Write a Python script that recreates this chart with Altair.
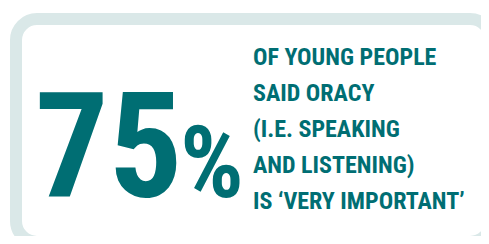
import altair as alt
import pandas as pd

# --- data ---
stat_value = [75]
stat_suffix = ["%"]
caption_lines = [
    "OF YOUNG PEOPLE",
    "SAID ORACY",
    "(I.E. SPEAKING",
    "AND LISTENING)",
    "IS \u2018VERY IMPORTANT\u2019",
]

TEAL = "#006e73"
BORDER = "#dae8e8"
FONT = "Roboto Condensed"

W, H = 473, 228

frame_df = pd.DataFrame({"k": [0]})
stat_df = pd.DataFrame({"value": stat_value, "suffix": stat_suffix})
caption_df = pd.DataFrame({"caption": ["\n".join(caption_lines)]})

frame = alt.Chart(frame_df).mark_rect(
    fill="white", stroke=BORDER, strokeWidth=12, cornerRadius=21, clip=True
).encode(
    x=alt.value(8), x2=alt.value(483), y=alt.value(11), y2=alt.value(234)
)

big = alt.Chart(stat_df).mark_text(
    font=FONT, fontWeight="bold", fontSize=146, color=TEAL,
    align="left", baseline="alphabetic"
).encode(
    x=alt.value(27), y=alt.value(189), text="value:N"
)

pct = alt.Chart(stat_df).mark_text(
    font=FONT, fontWeight="bold", fontSize=100, color=TEAL,
    align="left", baseline="alphabetic"
).encode(
    x=alt.value(172), y=alt.value(189), text="suffix:N"
)

caption = alt.Chart(caption_df).mark_text(
    font=FONT, fontWeight="bold", fontSize=24, color=TEAL,
    align="left", baseline="alphabetic", lineBreak="\n", lineHeight=36
).encode(
    x=alt.value(245), y=alt.value(57), text="caption:N"
)

chart = alt.layer(frame, big, pct, caption).properties(
    width=W, height=H, padding=0, autosize=alt.AutoSizeParams(type="none"),
    background="white"
).configure_view(stroke=None)

chart.save("out.html", embed_options={"renderer": "svg", "actions": False})
